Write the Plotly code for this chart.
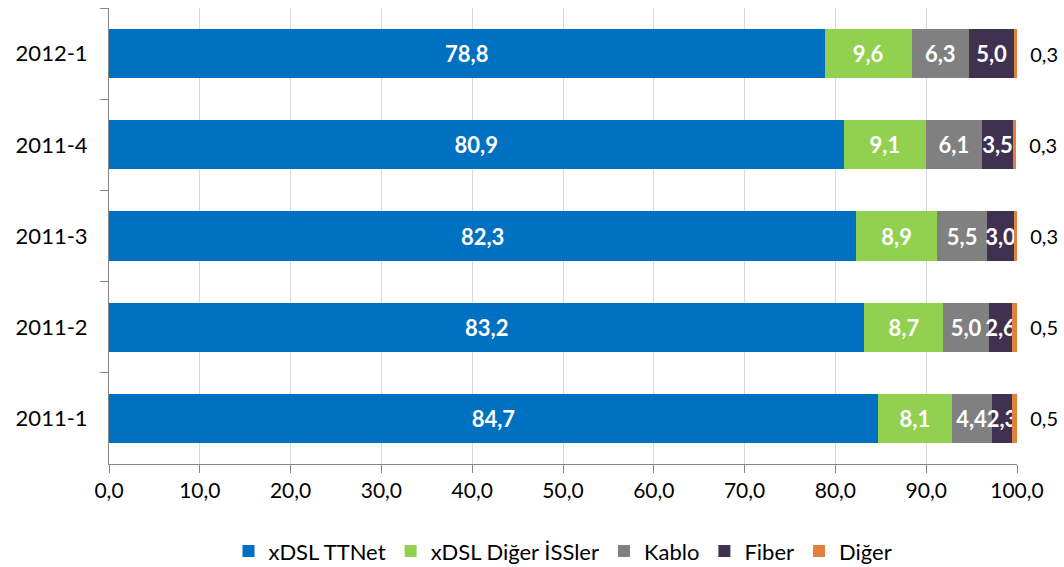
import plotly.graph_objects as go

periods = ["2012-1", "2011-4", "2011-3", "2011-2", "2011-1"]
series_names = ["xDSL TTNet", "xDSL Diğer İSSler", "Kablo", "Fiber", "Diğer"]
xdsl_ttnet = [78.8, 80.9, 82.3, 83.2, 84.7]
xdsl_diger = [9.6, 9.1, 8.9, 8.7, 8.1]
kablo = [6.3, 6.1, 5.5, 5.0, 4.4]
fiber = [5.0, 3.5, 3.0, 2.6, 2.3]
diger = [0.3, 0.3, 0.3, 0.5, 0.5]
colors = ["#0070C0", "#92D050", "#808080", "#403151", "#E0823C"]
x_ticks = [0, 10, 20, 30, 40, 50, 60, 70, 80, 90, 100]

FONT = "Lato"
values = [xdsl_ttnet, xdsl_diger, kablo, fiber, diger]

def fmt(v):
    return f"{v:.1f}".replace(".", ",")

fig = go.Figure()
for i, (name, vals, col) in enumerate(zip(series_names, values, colors)):
    last = i == len(series_names) - 1
    fig.add_trace(go.Bar(
        y=periods, x=vals, name=name, orientation="h",
        marker=dict(color=col, line=dict(width=0)),
        text=["\u00a0\u00a0" + fmt(v) if last else f"<b>{fmt(v)}</b>" for v in vals],
        textposition="outside" if last else "inside",
        insidetextanchor="middle",
        constraintext="none",
        cliponaxis=False,
        insidetextfont=dict(family=FONT, size=22, color="white"),
        outsidetextfont=dict(family=FONT, size=20, color="black"),
        textangle=0,
        hoverinfo="skip",
    ))

fig.update_layout(
    width=1064, height=567,
    barmode="stack", bargap=0.46,
    separators=",.",
    paper_bgcolor="white", plot_bgcolor="white",
    margin=dict(l=109, r=47, t=8, b=103, autoexpand=False),
    font=dict(family=FONT, size=21, color="black"),
    showlegend=True,
    legend=dict(orientation="h", x=0.5, xanchor="center", y=-0.145, yanchor="top",
                font=dict(family=FONT, size=22), traceorder="normal",
                itemwidth=30, tracegroupgap=0),
    xaxis=dict(range=[0, 100], tickvals=x_ticks, tickformat=".1f",
               showgrid=True, gridcolor="#D9D9D9", gridwidth=1,
               showline=True, linecolor="#868686", linewidth=1,
               ticks="outside", ticklen=8, tickcolor="#868686",
               tickfont=dict(family=FONT, size=21), zeroline=False,
               automargin=False),
    yaxis=dict(type="category", categoryorder="array", categoryarray=periods,
               autorange="reversed",
               showline=True, linecolor="#868686", linewidth=1,
               ticks="outside", ticklen=8, tickcolor="#868686",
               tickson="boundaries", ticklabelstandoff=16,
               tickfont=dict(family=FONT, size=22), showgrid=False,
               automargin=False),
)

fig.write_html(
    "out.html",
    config={"displayModeBar": False},
    post_script="document.body.style.margin='0';document.body.style.overflow='hidden';",
)
